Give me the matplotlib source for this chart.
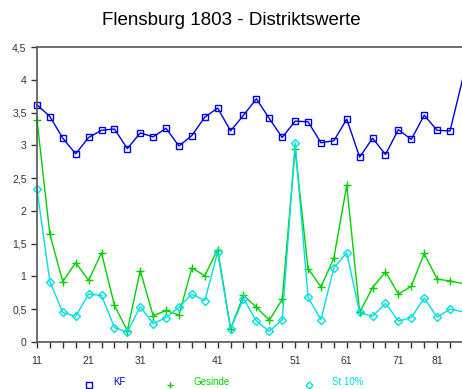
import matplotlib
matplotlib.use('Agg')
import matplotlib.pyplot as plt
from matplotlib.lines import Line2D
from matplotlib.ticker import FuncFormatter

plt.rcParams['font.family'] = ['Liberation Sans', 'DejaVu Sans']

# Werte je Distrikt (gleichmaessig angeordnete Kategorien)
kf = [3.62, 3.44, 3.11, 2.87, 3.12, 3.23, 3.25, 2.95, 3.19, 3.13,
      3.26, 2.99, 3.15, 3.43, 3.57, 3.22, 3.46, 3.71, 3.41, 3.12,
      3.37, 3.36, 3.04, 3.07, 3.40, 2.82, 3.11, 2.86, 3.24, 3.09,
      3.46, 3.23, 3.22, 4.03]
gesinde = [3.39, 1.64, 0.92, 1.21, 0.94, 1.36, 0.56, 0.17, 1.09, 0.40,
           0.48, 0.41, 1.13, 1.01, 1.41, 0.20, 0.71, 0.53, 0.33, 0.65,
           2.94, 1.12, 0.84, 1.28, 2.39, 0.45, 0.83, 1.07, 0.73, 0.85,
           1.35, 0.96, 0.93, 0.89]
st10 = [2.33, 0.92, 0.45, 0.39, 0.73, 0.71, 0.22, 0.15, 0.54, 0.28,
        0.37, 0.53, 0.73, 0.63, 1.37, 0.20, 0.66, 0.32, 0.16, 0.34,
        3.04, 0.68, 0.34, 1.13, 1.36, 0.45, 0.39, 0.59, 0.32, 0.37,
        0.67, 0.38, 0.50, 0.46]

# beschriftete Kategorien: Position -> Distriktnummer
label_pos = [0, 4, 8, 14, 20, 24, 28, 31]
label_txt = ['11', '21', '31', '41', '51', '61', '71', '81']

c_kf = '#0000dd'
c_ges = '#00d000'
c_st = '#00dede'

fig = plt.figure(figsize=(4.62, 3.89), dpi=100)
ax = fig.add_axes([0.080, 0.121, 0.922, 0.758])

x = list(range(len(kf)))
# letzter Punkt liegt am Bildrand, dort ohne Marker
mev = list(range(len(kf) - 1))
ax.plot(x, kf, color=c_kf, lw=1, marker='s', ms=5, mfc='none', mec=c_kf, mew=1,
        markevery=mev, clip_on=False)
ax.plot(x, gesinde, color=c_ges, lw=1, marker='+', ms=6, mec=c_ges, mew=1,
        markevery=mev, clip_on=False)
ax.plot(x, st10, color=c_st, lw=1, marker='D', ms=4, mfc='none', mec=c_st, mew=1,
        markevery=mev, clip_on=False)

ax.set_xlim(0, 33)
ax.set_ylim(0, 4.5)
ax.set_yticks([0, 0.5, 1, 1.5, 2, 2.5, 3, 3.5, 4, 4.5])
ax.yaxis.set_major_formatter(FuncFormatter(lambda v, p: ('%g' % v).replace('.', ',')))
ax.set_xticks(x, minor=True)
ax.set_xticks(label_pos)
ax.set_xticklabels(label_txt)

ax.tick_params(axis='y', direction='out', length=4, width=1, labelsize=7.5, colors='#333333')
ax.tick_params(axis='x', which='both', direction='out', length=4, width=1, labelsize=7.5,
               colors='#333333')
ax.tick_params(axis='x', which='major', pad=6)

for s in ['left', 'bottom', 'top']:
    ax.spines[s].set_color('#555555')
    ax.spines[s].set_linewidth(1.2)
ax.spines['right'].set_visible(False)

fig.text(0.5, 0.948, 'Flensburg 1803 - Distriktswerte', ha='center', va='center', fontsize=13.5)

# Legende unten
ly = 1 - 385 / 389
for mx, tx, lab, col, mk, ms in [(89, 113, 'KF', c_kf, 's', 4),
                                 (170, 193, 'Gesinde', c_ges, '+', 5),
                                 (309, 332, 'St 10%', c_st, 'D', 3.5)]:
    fig.add_artist(Line2D([mx / 462], [ly], transform=fig.transFigure, marker=mk, ms=ms,
                          mfc='none', mec=col, mew=1, ls='none'))
    fig.text(tx / 462, 1 - 382 / 389, lab, color=col, fontsize=7, ha='left', va='center')

fig.savefig('out.png', dpi=100)
